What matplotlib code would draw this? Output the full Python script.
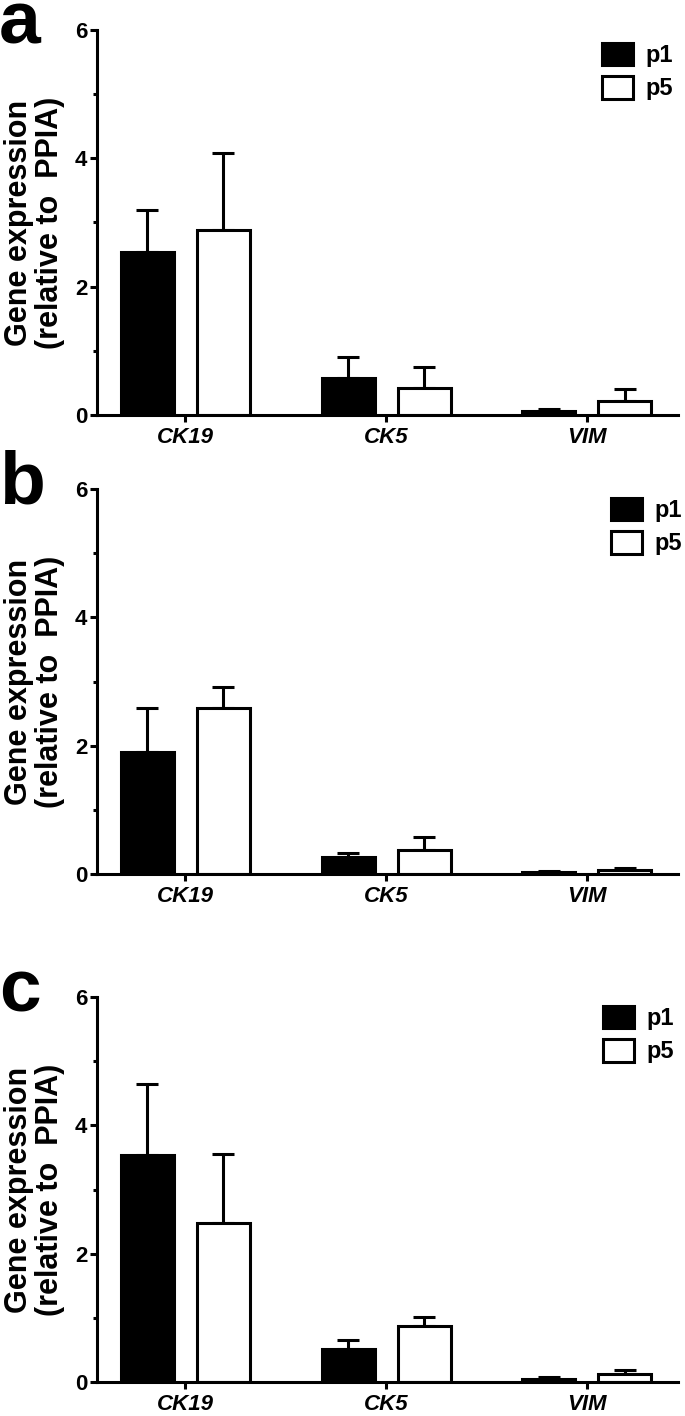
import matplotlib
matplotlib.use('Agg')
import matplotlib.pyplot as plt
from matplotlib.ticker import MultipleLocator, FixedLocator
import numpy as np

plt.rcParams['font.family'] = ['Liberation Sans', 'DejaVu Sans']
plt.rcParams['font.weight'] = 'bold'

genes = ['CK19', 'CK5', 'VIM']
series_names = ['p1', 'p5']
panel_labels = ['a', 'b', 'c']
y_label = 'Gene expression\n(relative to  PPIA)'
y_ticks = [0, 2, 4, 6]

# panel a
a_p1 = [2.54, 0.58, 0.067]
a_p1_err = [0.66, 0.32, 0.025]
a_p5 = [2.89, 0.425, 0.22]
a_p5_err = [1.19, 0.325, 0.18]
# panel b
b_p1 = [1.90, 0.26, 0.03]
b_p1_err = [0.69, 0.07, 0.01]
b_p5 = [2.58, 0.37, 0.06]
b_p5_err = [0.34, 0.20, 0.04]
# panel c
c_p1 = [3.53, 0.51, 0.05]
c_p1_err = [1.11, 0.14, 0.03]
c_p5 = [2.48, 0.87, 0.12]
c_p5_err = [1.07, 0.14, 0.06]

panel_data = [
    (a_p1, a_p1_err, a_p5, a_p5_err),
    (b_p1, b_p1_err, b_p5, b_p5_err),
    (c_p1, c_p1_err, c_p5, c_p5_err),
]

W, H = 685, 1416
fig = plt.figure(figsize=(W / 100, H / 100), dpi=100)

ax_left = 97 / W
ax_w = (678 - 97) / W
ax_h = 385 / H
bottoms_px = [415, 874, 1382]
legend_anchor_px = [(602, 43), (611, 498), (603, 1006)]
letter_base_px = [43, 503, 1012]

LW = 2.2
bar_w = 0.264
offset = 0.189
x = np.arange(len(genes))

for i, (p1, p1e, p5, p5e) in enumerate(panel_data):
    ax = fig.add_axes([ax_left, 1 - bottoms_px[i] / H, ax_w, ax_h])
    b1 = ax.bar(x - offset, p1, width=bar_w, color='black', edgecolor='black',
                linewidth=LW, zorder=2, label=series_names[0])
    b2 = ax.bar(x + offset, p5, width=bar_w, color='white', edgecolor='black',
                linewidth=LW, zorder=2, label=series_names[1])
    ax.errorbar(x - offset, p1, yerr=[np.zeros(len(p1)), p1e], fmt='none',
                ecolor='black', elinewidth=LW, capsize=8, capthick=LW, zorder=1)
    ax.errorbar(x + offset, p5, yerr=[np.zeros(len(p5)), p5e], fmt='none',
                ecolor='black', elinewidth=LW, capsize=8, capthick=LW, zorder=1)

    ax.set_ylim(0, 6)
    ax.set_xlim(-0.44, 2.454)
    ax.yaxis.set_major_locator(FixedLocator(y_ticks))
    ax.yaxis.set_minor_locator(MultipleLocator(1))
    ax.set_xticks(x)
    ax.set_xticklabels(genes, fontsize=16, fontweight='bold', fontstyle='italic')
    ax.set_yticklabels([str(t) for t in y_ticks], fontsize=16, fontweight='bold')
    for s in ['top', 'right']:
        ax.spines[s].set_visible(False)
    for s in ['left', 'bottom']:
        ax.spines[s].set_linewidth(LW)
    ax.tick_params(axis='both', which='major', length=5, width=LW, direction='out')
    ax.tick_params(axis='y', which='major', pad=2)
    ax.tick_params(axis='x', which='major', pad=4)
    ax.tick_params(axis='y', which='minor', length=3, width=LW, direction='out')
    ax.set_ylabel(y_label, fontsize=22, fontweight='bold', labelpad=7,
                  linespacing=1.05)

    lx, ly = legend_anchor_px[i]
    ax.legend(handles=[b1, b2], loc='upper left',
              bbox_to_anchor=(lx / W, 1 - ly / H), bbox_transform=fig.transFigure,
              frameon=False, borderpad=0, borderaxespad=0,
              handlelength=1.3, handleheight=1.08, handletextpad=0.55,
              labelspacing=0.38, prop={'size': 17, 'weight': 'bold'})

    fig.text(-0.002, 1 - letter_base_px[i] / H, panel_labels[i], fontsize=54,
             fontweight='bold', ha='left', va='baseline')

fig.savefig('out.png', dpi=100)
